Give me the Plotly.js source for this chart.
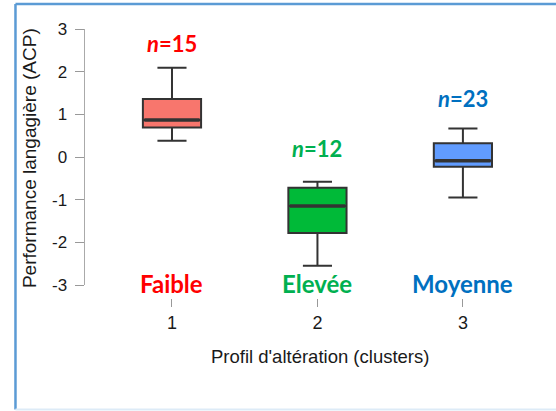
<!DOCTYPE html>
<html>
<head>
<meta charset="utf-8">
<script src="https://cdn.plot.ly/plotly-3.0.1.min.js"></script>
<style>html,body{margin:0;padding:0;background:#fff;}#chart{width:556px;height:411px;}</style>
</head>
<body>
<div id="chart"></div>
<script>
// ---- data ----
const categories = ["Faible", "Elevée", "Moyenne"];
const clusters = [1, 2, 3];
const counts = [15, 12, 23];
const upperWhisker = [2.09, -0.58, 0.67];
const q3 = [1.36, -0.72, 0.32];
const median = [0.87, -1.15, -0.09];
const q1 = [0.69, -1.78, -0.23];
const lowerWhisker = [0.38, -2.55, -0.95];
const yTickVals = [-3, -2, -1, 0, 1, 2, 3];
const yTickLabels = ["-3", "-2", "-1", "0", "1", "2", "3"];
const xTickLabels = ["1", "2", "3"];

// ---- styles ----
const fillColors = ["#F8766D", "#00BA38", "#619CFF"];
const textColors = ["#FF0000", "#00B050", "#0070C0"];
const boxWidth = 0.4;
const nLabelOffset = [0.56, 0.79, 0.71];
const catLabelY = -2.96;
const labelFont = "Lato, 'Open Sans', sans-serif";
const axisFont = "'Liberation Sans', Arial, sans-serif";

const traces = [];
clusters.forEach((c, i) => {
  traces.push({
    type: "box",
    x: [c],
    q1: [q1[i]], median: [median[i]], q3: [q3[i]],
    lowerfence: [lowerWhisker[i]], upperfence: [upperWhisker[i]],
    width: boxWidth,
    whiskerwidth: 0.5,
    fillcolor: fillColors[i],
    line: {color: "#333333", width: 2},
    boxpoints: false,
    hoverinfo: "skip",
    showlegend: false
  });
});
clusters.forEach((c, i) => {
  traces.push({
    type: "scatter", mode: "lines",
    x: [c - boxWidth / 2 + 0.01, c + boxWidth / 2 - 0.01],
    y: [median[i], median[i]],
    line: {color: "#333333", width: 3.5},
    hoverinfo: "skip", showlegend: false
  });
});

const annotations = [];
clusters.forEach((c, i) => {
  annotations.push({
    x: c, y: upperWhisker[i] + nLabelOffset[i], xref: "x", yref: "y",
    text: "<i>n</i>=" + counts[i], showarrow: false,
    font: {family: labelFont, size: 22, color: textColors[i], weight: "bold"},
    xanchor: "center", yanchor: "middle"
  });
  annotations.push({
    x: c, y: catLabelY, xref: "x", yref: "y",
    text: categories[i], showarrow: false,
    font: {family: labelFont, size: 24, color: textColors[i], weight: "bold"},
    xanchor: "center", yanchor: "middle"
  });
});
annotations.push({
  x: -0.119, y: 0.52, xref: "paper", yref: "paper",
  text: "Performance langagière (ACP)", textangle: -90, showarrow: false,
  font: {family: axisFont, size: 19, color: "#1a1a1a"},
  xanchor: "center", yanchor: "middle"
});
annotations.push({
  x: 0.499, y: -0.219, xref: "paper", yref: "paper",
  text: "Profil d'altération (clusters)", showarrow: false,
  font: {family: axisFont, size: 18.5, color: "#1a1a1a"},
  xanchor: "center", yanchor: "middle"
});

const layout = {
  width: 556, height: 411,
  margin: {l: 85, r: 0, t: 29, b: 113},
  paper_bgcolor: "#ffffff", plot_bgcolor: "#ffffff",
  showlegend: false,
  boxmode: "overlay",
  xaxis: {
    range: [0.402, 3.64], anchor: "free", position: 0,
    tickvals: clusters, ticktext: xTickLabels,
    ticks: "outside", ticklen: 8, tickwidth: 1, tickcolor: "#999999",
    showline: false, showgrid: false, zeroline: false,
    ticklabelstandoff: 0,
    tickfont: {family: axisFont, size: 18, color: "#1a1a1a"}
  },
  yaxis: {
    domain: [0.0483, 1], range: [-3, 3],
    tickvals: yTickVals, ticktext: yTickLabels,
    ticks: "outside", ticklen: 9, tickwidth: 1, tickcolor: "#999999",
    showline: true, linecolor: "#aaaaaa", linewidth: 1.5,
    showgrid: false, zeroline: false,
    ticklabelstandoff: 4,
    tickfont: {family: axisFont, size: 17, color: "#1a1a1a"}
  },
  annotations: annotations,
  shapes: [
    {type: "line", xref: "paper", yref: "paper", x0: -0.1476, x1: 1.02, y0: 1.0929, y1: 1.0929,
     line: {color: "#5B9BD5", width: 2.5}},
    {type: "line", xref: "paper", yref: "paper", x0: -0.1476, x1: -0.1476, y0: 1.0929, y1: -0.4145,
     line: {color: "#5B9BD5", width: 2.5}},
    {type: "line", xref: "paper", yref: "paper", x0: -0.1476, x1: 1.02, y0: -0.4145, y1: -0.4145,
     line: {color: "#DDEBF7", width: 2}}
  ]
};

Plotly.newPlot("chart", traces, layout, {displayModeBar: false, staticPlot: true});
</script>
</body>
</html>
